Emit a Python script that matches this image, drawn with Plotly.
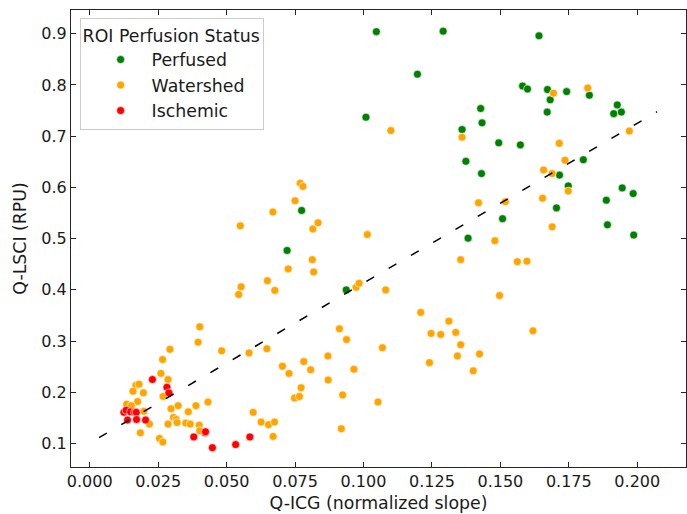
import plotly.graph_objects as go

# Q-ICG (normalized slope) vs Q-LSCI (RPU) per ROI, grouped by perfusion status
perfused_x = [0.1047, 0.1291, 0.1641, 0.1197, 0.1581, 0.1599, 0.1672, 0.1742, 0.1825,
              0.1682, 0.1927, 0.1914, 0.1942, 0.1671, 0.1009, 0.1428, 0.1433, 0.1360,
              0.1494, 0.1573, 0.1374, 0.1431, 0.1803, 0.1716, 0.1748, 0.1945, 0.1985,
              0.1887, 0.1705, 0.1508, 0.1891, 0.1987, 0.1382, 0.0774, 0.0721, 0.0937]
perfused_y = [0.904, 0.905, 0.896, 0.821, 0.798, 0.792, 0.791, 0.787, 0.780,
              0.771, 0.761, 0.744, 0.747, 0.747, 0.737, 0.754, 0.726, 0.713,
              0.687, 0.683, 0.651, 0.627, 0.654, 0.624, 0.603, 0.599, 0.588,
              0.575, 0.560, 0.539, 0.527, 0.507, 0.501, 0.555, 0.477, 0.400]

watershed_x = [0.0769, 0.0779, 0.0750, 0.0669, 0.0550, 0.0815, 0.0834, 0.1014, 0.1694,
               0.1819, 0.1100, 0.1360, 0.1971, 0.1715, 0.1736, 0.1658, 0.1689, 0.1748,
               0.1654, 0.1420, 0.1518, 0.1689, 0.1480, 0.1355, 0.1562, 0.1597, 0.0973,
               0.0984, 0.1081, 0.1497, 0.1209, 0.1312, 0.1247, 0.1282, 0.1337, 0.1619,
               0.0912, 0.0938, 0.1355, 0.1343, 0.1424, 0.1069, 0.1241, 0.1401, 0.0965,
               0.0924, 0.1053, 0.0919, 0.0725, 0.0813, 0.0818, 0.0649, 0.0676, 0.0553,
               0.0544, 0.0402, 0.0396, 0.0482, 0.0293, 0.0582, 0.0647, 0.0266, 0.0260,
               0.0286, 0.0704, 0.0728, 0.0782, 0.0807, 0.0870, 0.0871, 0.0772, 0.0748,
               0.0766, 0.0268, 0.0169, 0.0180, 0.0158, 0.0196, 0.0175, 0.0135, 0.0152,
               0.0297, 0.0323, 0.0432, 0.0388, 0.0360, 0.0198, 0.0306, 0.0316, 0.0319,
               0.0286, 0.0351, 0.0367, 0.0400, 0.0218, 0.0402, 0.0185, 0.0255, 0.0267,
               0.0597, 0.0626, 0.0653, 0.0675, 0.0670]
watershed_y = [0.608, 0.602, 0.574, 0.552, 0.525, 0.519, 0.531, 0.508, 0.784,
               0.794, 0.711, 0.698, 0.710, 0.686, 0.653, 0.634, 0.627, 0.593,
               0.579, 0.570, 0.572, 0.523, 0.496, 0.459, 0.455, 0.456, 0.405,
               0.413, 0.400, 0.389, 0.356, 0.339, 0.315, 0.313, 0.317, 0.320,
               0.324, 0.303, 0.293, 0.271, 0.275, 0.287, 0.258, 0.242, 0.245,
               0.195, 0.181, 0.129, 0.441, 0.459, 0.435, 0.418, 0.399, 0.406,
               0.391, 0.328, 0.298, 0.281, 0.284, 0.277, 0.285, 0.264, 0.237,
               0.225, 0.251, 0.237, 0.260, 0.244, 0.271, 0.224, 0.209, 0.189,
               0.192, 0.192, 0.214, 0.216, 0.202, 0.199, 0.182, 0.177, 0.174,
               0.168, 0.174, 0.181, 0.174, 0.162, 0.163, 0.151, 0.147, 0.141,
               0.138, 0.140, 0.138, 0.136, 0.138, 0.125, 0.121, 0.110, 0.103,
               0.161, 0.142, 0.137, 0.142, 0.114]

ischemic_x = [0.0125, 0.0133, 0.0149, 0.0164, 0.0170, 0.0138, 0.0171, 0.0204, 0.0229,
              0.0282, 0.0289, 0.0380, 0.0421, 0.0423, 0.0448, 0.0533, 0.0585]
ischemic_y = [0.161, 0.165, 0.162, 0.161, 0.161, 0.146, 0.147, 0.146, 0.225,
              0.210, 0.199, 0.113, 0.121, 0.123, 0.092, 0.098, 0.113]

# linear trend line endpoints
fit_x = [0.0034, 0.2072]
fit_y = [0.1117, 0.7477]

x_ticks = [0.0, 0.025, 0.05, 0.075, 0.1, 0.125, 0.15, 0.175, 0.2]
y_ticks = [0.1, 0.2, 0.3, 0.4, 0.5, 0.6, 0.7, 0.8, 0.9]

groups = [
    ("Perfused", perfused_x, perfused_y, "#008000"),
    ("Watershed", watershed_x, watershed_y, "#FFA500"),
    ("Ischemic", ischemic_x, ischemic_y, "#FF0000"),
]

fig = go.Figure()
for name, xs, ys, color in groups:
    fig.add_trace(go.Scatter(
        x=xs, y=ys, mode="markers", name=name,
        marker=dict(color=color, size=8, line=dict(color="white", width=0.6)),
    ))

fig.add_trace(go.Scatter(
    x=fit_x, y=fit_y, mode="lines", showlegend=False, hoverinfo="skip",
    line=dict(color="black", width=1.5, dash="9px,16.8px"),
))

font_family = "DejaVu Sans"
tick_size = 16
label_size = 17.33
axis_common = dict(
    showgrid=False, zeroline=False, showline=True, linecolor="#262626", linewidth=1.2,
    mirror="ticks", ticks="inside", ticklen=5, tickwidth=1.2, tickcolor="#262626",
    tickfont=dict(family=font_family, size=tick_size, color="#1a1a1a"),
)

fig.update_layout(
    width=687, height=514,
    margin=dict(l=71, r=1, t=10, b=47),
    paper_bgcolor="white", plot_bgcolor="white",
    font=dict(family=font_family, size=tick_size, color="#1a1a1a"),
    xaxis=dict(range=[-0.00684, 0.2178], tickvals=x_ticks, tickformat=".3f",
               title=dict(text="Q-ICG (normalized slope)", font=dict(size=label_size), standoff=6),
               **axis_common),
    yaxis=dict(range=[0.0543, 0.9463], tickvals=y_ticks, tickformat=".1f",
               title=dict(text="Q-LSCI (RPU)", font=dict(size=label_size), standoff=10),
               **axis_common),
    legend=dict(
        x=0.014, y=0.982, xanchor="left", yanchor="top",
        bgcolor="rgba(255,255,255,0.8)", bordercolor="#cccccc", borderwidth=1,
        title=dict(text="ROI Perfusion Status", font=dict(size=label_size)),
        font=dict(size=label_size), itemwidth=52, indentation=9,
    ),
)

fig.write_html("out.html")
